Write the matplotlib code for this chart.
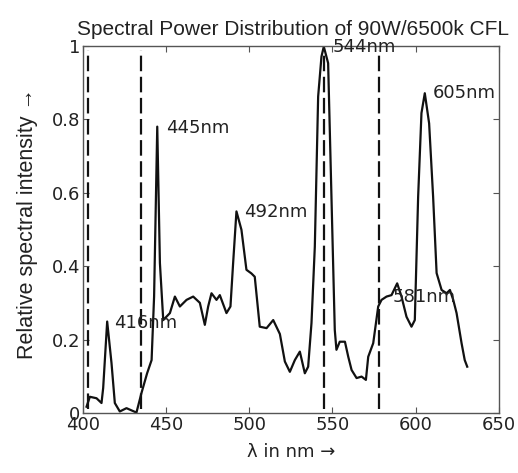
import matplotlib
matplotlib.use("Agg")
import matplotlib.pyplot as plt
from matplotlib.ticker import FuncFormatter

# spectrum (wavelength in nm, relative intensity)
wl = [402.2, 404.2, 408.2, 411.2, 412.2, 414.6, 417.2, 419.2, 422.2, 426.2,
      432.2, 435.2, 438.6, 441.3, 442.8, 444.7, 446.3, 448.3, 452.3, 455.3,
      458.3, 462.3, 466.3, 470.3, 473.3, 475.3, 477.3, 480.3, 482.3, 486.3,
      488.7, 490.3, 492.3, 495.3, 498.3, 501.3, 503.3, 506.3, 510.4, 514.4,
      518.4, 521.4, 524.4, 527.4, 530.4, 533.4, 535.4, 537.4, 539.4, 541.4,
      543.4, 544.8, 547.4, 549.4, 551.4, 552.4, 554.4, 557.5, 559.5, 561.5,
      564.5, 567.5, 570.1, 571.5, 574.5, 577.5, 579.5, 582.5, 585.5, 588.9,
      591.5, 594.5, 597.5, 599.5, 601.5, 603.5, 605.5, 608.1, 610.5, 612.6,
      615.6, 618.6, 620.6, 622.6, 624.6, 627.6, 629.5, 631.0]
intensity = [0.017, 0.044, 0.040, 0.027, 0.068, 0.249, 0.136, 0.027, 0.004, 0.013,
             0.001, 0.054, 0.108, 0.144, 0.317, 0.780, 0.408, 0.253, 0.272, 0.317,
             0.290, 0.308, 0.317, 0.300, 0.240, 0.290, 0.326, 0.308, 0.321, 0.272,
             0.290, 0.408, 0.549, 0.499, 0.390, 0.380, 0.371, 0.235, 0.231, 0.253,
             0.215, 0.140, 0.112, 0.144, 0.167, 0.108, 0.126, 0.245, 0.453, 0.862,
             0.971, 0.998, 0.953, 0.589, 0.226, 0.172, 0.194, 0.194, 0.153, 0.117,
             0.095, 0.099, 0.090, 0.153, 0.190, 0.290, 0.308, 0.317, 0.321, 0.353,
             0.317, 0.262, 0.235, 0.253, 0.589, 0.817, 0.871, 0.789, 0.589, 0.381,
             0.335, 0.326, 0.335, 0.308, 0.272, 0.190, 0.144, 0.126]

# dashed band edges
band_edges = [403, 435, 545, 578]

# peak labels
peak_text = ["416nm", "445nm", "492nm", "544nm", "605nm", "581nm"]
peak_x = [419, 450, 497, 550, 610, 586]
peak_y = [0.245, 0.776, 0.548, 0.997, 0.872, 0.316]

plt.rcParams["font.family"] = "DejaVu Sans"
plt.rcParams["font.size"] = 13

fig = plt.figure(figsize=(5.18, 4.73), dpi=100)
ax = fig.add_axes([0.160, 0.127, 0.803, 0.776])

ax.plot(wl, intensity, color="#111111", lw=1.6)
for xv in band_edges:
    ax.axvline(xv, ymin=0.01, ymax=0.99, color="#111111", lw=1.6,
               linestyle=(0, (7, 2.5)))

for t, xv, yv in zip(peak_text, peak_x, peak_y):
    ax.text(xv, yv, t, ha="left", va="center", color="#222222", fontsize=13)

ax.set_xlim(400, 650)
ax.set_ylim(0, 1)
ax.set_xticks([400, 450, 500, 550, 600, 650])
ax.set_yticks([0, 0.2, 0.4, 0.6, 0.8, 1])
ax.yaxis.set_major_formatter(FuncFormatter(lambda v, p: f"{v:g}"))
ax.tick_params(direction="in", top=True, right=True, length=4,
               color="#555555", labelcolor="#222222", pad=2)
for s in ax.spines.values():
    s.set_color("#555555")
    s.set_linewidth(1.0)

ax.set_xlabel("λ in nm →", color="#222222", labelpad=7)
ax.set_ylabel("Relative spectral intensity →", color="#222222",
              family=["Liberation Sans", "DejaVu Sans"], fontsize=15.5)
ax.yaxis.set_label_coords(-0.108, 0.515)
ax.set_title("Spectral Power Distribution of 90W/6500k CFL",
             color="#222222", family="Liberation Sans", fontsize=15,
             pad=8, x=0.505)

fig.savefig("out.png", dpi=100)
